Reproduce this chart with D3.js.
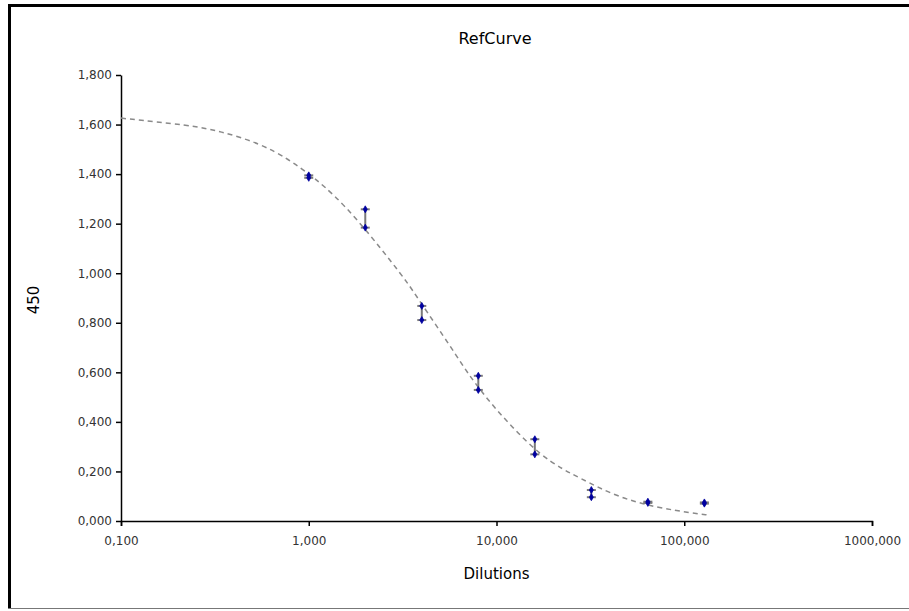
<!DOCTYPE html>
<html>
<head>
<meta charset="utf-8">
<script src="https://cdn.jsdelivr.net/npm/d3@7"></script>
<style>
	body { margin: 0; background: #fff; }
	text { font-family: "DejaVu Sans", sans-serif; }
</style>
</head>
<body>
<div id="chart"></div>
<script>
// dilution steps and the two replicate readings at 450 nm
const dilutions = [1, 2, 4, 8, 16, 32, 64, 128];
const rep1 = [1.395, 1.258, 0.868, 0.586, 0.330, 0.125, 0.078, 0.075];
const rep2 = [1.385, 1.184, 0.811, 0.529, 0.269, 0.096, 0.073, 0.070];

// fitted reference curve
const fitX = [0.1, 0.233, 0.336, 0.55, 0.79, 1.01, 1.19, 1.56, 2.12, 2.71, 3.37, 3.77, 5.86, 6.95, 9.0, 12.1, 17.0, 23.0, 26.8, 43.7, 71.4, 111, 134];
const fitY = [1.626, 1.597, 1.574, 1.524, 1.458, 1.398, 1.356, 1.272, 1.154, 1.053, 0.960, 0.904, 0.690, 0.601, 0.488, 0.379, 0.268, 0.205, 0.180, 0.097, 0.054, 0.032, 0.024];

const xTicks = [0.1, 1, 10, 100, 1000];
const yTicks = [0, 0.2, 0.4, 0.6, 0.8, 1.0, 1.2, 1.4, 1.6, 1.8];

const chartTitle = 'RefCurve';
const xTitle = 'Dilutions';
const yTitle = '450';

const width = 909;
const height = 611;
const plot = {left: 121, right: 872, top: 75, bottom: 521};

const locale = d3.formatLocale({decimal: ',', thousands: '', grouping: [3], currency: ['', '']});
const fmt = locale.format('.3f');

const svg = d3.select('#chart').append('svg')
	.attr('width', width)
	.attr('height', height);

// frame
svg.append('line').attr('x1', 8).attr('x2', width).attr('y1', 5.5).attr('y2', 5.5)
	.attr('stroke', '#000').attr('stroke-width', 3);
svg.append('line').attr('x1', 9.5).attr('x2', 9.5).attr('y1', 4).attr('y2', 608)
	.attr('stroke', '#000').attr('stroke-width', 3);
svg.append('line').attr('x1', 8).attr('x2', width).attr('y1', 608.5).attr('y2', 608.5)
	.attr('stroke', '#777').attr('stroke-width', 1);

const xScale = d3.scaleLog()
	.domain([0.1, 1000])
	.range([plot.left, plot.right]);

const yScale = d3.scaleLinear()
	.domain([0, 1.8])
	.range([plot.bottom, plot.top]);

const xAxis = d3.axisBottom(xScale)
	.tickValues(xTicks)
	.tickFormat(fmt)
	.tickSize(5)
	.tickSizeOuter(5)
	.tickPadding(10);

const yAxis = d3.axisLeft(yScale)
	.tickValues(yTicks)
	.tickFormat(fmt)
	.tickSize(5)
	.tickSizeOuter(0)
	.tickPadding(4);

const gx = svg.append('g')
	.attr('transform', `translate(0,${plot.bottom})`)
	.call(xAxis);
const gy = svg.append('g')
	.attr('transform', `translate(${plot.left},0)`)
	.call(yAxis);

[gx, gy].forEach(g => {
	g.select('.domain').attr('stroke', '#000').attr('stroke-width', 1.5);
	g.selectAll('.tick line').attr('stroke', '#000').attr('stroke-width', 1.5);
	g.selectAll('.tick text').attr('fill', '#333').style('font-size', '12px')
		.style('font-family', '"DejaVu Sans", sans-serif');
});

// fitted curve
const line = d3.line()
	.x((d, i) => xScale(fitX[i]))
	.y(d => yScale(d))
	.curve(d3.curveBasis);

svg.append('path')
	.datum(fitY)
	.attr('d', line)
	.attr('fill', 'none')
	.attr('stroke', '#8a8a8a')
	.attr('stroke-width', 1.5)
	.attr('stroke-dasharray', '5,4');

// error bars between the replicates
const bars = svg.append('g');
dilutions.forEach((dil, i) => {
	const x = xScale(dil);
	const hi = yScale(Math.max(rep1[i], rep2[i]));
	const lo = yScale(Math.min(rep1[i], rep2[i]));
	bars.append('line').attr('x1', x).attr('x2', x).attr('y1', hi).attr('y2', lo)
		.attr('stroke', '#7a7a7a').attr('stroke-width', 2);
	[hi, lo].forEach(y => {
		bars.append('line').attr('x1', x - 4.5).attr('x2', x + 4.5).attr('y1', y).attr('y2', y)
			.attr('stroke', '#7a7a7a').attr('stroke-width', 2);
	});
});

// replicate markers
const diamond = d3.symbol().type(d3.symbolDiamond).size(14);
[rep1, rep2].forEach(rep => {
	svg.append('g').selectAll('path')
		.data(rep)
		.enter().append('path')
		.attr('d', diamond)
		.attr('fill', '#0000a0')
		.attr('stroke', '#0000a0')
		.attr('stroke-width', 0.8)
		.attr('transform', (d, i) => `translate(${xScale(dilutions[i])},${yScale(d)})`);
});

// titles
svg.append('text')
	.attr('x', 495).attr('y', 44)
	.attr('text-anchor', 'middle')
	.style('font-size', '16px')
	.attr('fill', '#000')
	.text(chartTitle);

svg.append('text')
	.attr('x', (plot.left + plot.right) / 2).attr('y', 579)
	.attr('text-anchor', 'middle')
	.style('font-size', '15px')
	.attr('fill', '#000')
	.text(xTitle);

svg.append('text')
	.attr('transform', 'translate(39,300) rotate(-90)')
	.attr('text-anchor', 'middle')
	.style('font-size', '15px')
	.attr('fill', '#000')
	.text(yTitle);
</script>
</body>
</html>
